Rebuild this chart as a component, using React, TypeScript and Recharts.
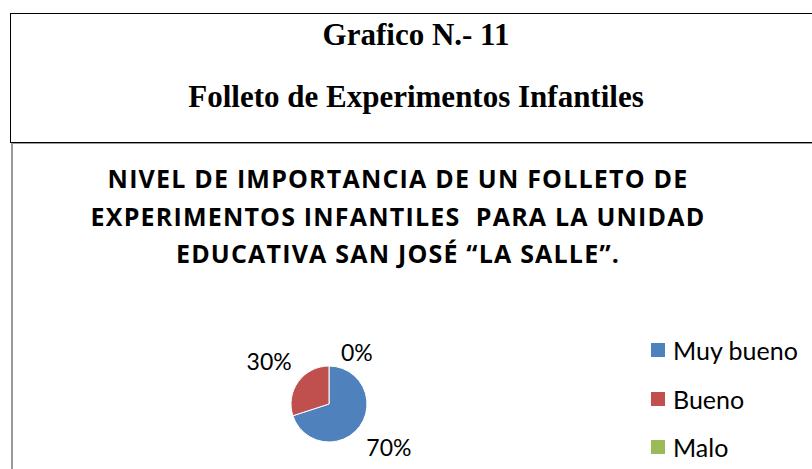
import { PieChart, Pie, Cell, Legend } from "recharts";

// Survey result for graph 11
const categories = ["Muy bueno", "Bueno", "Malo"];
const values = [70, 30, 0];
const colors = ["#4F81BD", "#C0504D", "#9BBB59"];

const titleLines = [
  "NIVEL DE IMPORTANCIA DE UN FOLLETO DE",
  "EXPERIMENTOS INFANTILES  PARA LA UNIDAD",
  "EDUCATIVA SAN JOSÉ \u201CLA SALLE\u201D.",
];

const chartData = categories.map((name, i) => ({ name, value: values[i] }));

const RADIAN = Math.PI / 180;

const renderLabel = (props: any) => {
  const { cx, cy, midAngle, outerRadius, percent, value } = props;
  const zero = value === 0;
  const r = zero ? outerRadius + 14 : outerRadius + 36;
  const x = cx + r * Math.cos(-midAngle * RADIAN);
  const y = cy + r * Math.sin(-midAngle * RADIAN);
  return (
    <text
      x={zero ? x + 12 : x}
      y={y}
      textAnchor={zero ? "start" : "middle"}
      dominantBaseline="central"
      fill="#000"
      fontSize={23}
      fontFamily="Lato, sans-serif"
    >
      {`${Math.round(percent * 100)}%`}
    </text>
  );
};

// legend keeps the data order (Muy bueno, Bueno, Malo)
const renderLegend = () => (
  <div style={{ fontFamily: "Lato, sans-serif", fontSize: 25, color: "#000" }}>
    {categories.map((name, i) => (
      <div key={`leg-${i}`} style={{ display: "flex", alignItems: "center", height: 48.5 }}>
        <span
          style={{ width: 14, height: 14, background: colors[i], display: "inline-block", marginRight: 8 }}
        />
        <span>{name}</span>
      </div>
    ))}
  </div>
);

export default function App() {
  return (
    <div
      style={{
        position: "fixed",
        left: 0,
        top: 0,
        width: 812,
        height: 469,
        overflow: "hidden",
        background: "#fff",
      }}
    >
      {/* header box */}
      <div
        style={{
          position: "absolute",
          left: 10,
          top: 13,
          width: 810,
          height: 128,
          border: "1px solid #000",
        }}
      />
      <div
        style={{
          position: "absolute",
          left: 10,
          width: 812,
          top: 20,
          textAlign: "center",
          fontFamily: "'Liberation Serif', 'Times New Roman', serif",
          fontWeight: "bold",
          fontSize: 31,
          lineHeight: "30px",
        }}
      >
        Grafico N.- 11
      </div>
      <div
        style={{
          position: "absolute",
          left: 10,
          width: 812,
          top: 82,
          textAlign: "center",
          fontFamily: "'Liberation Serif', 'Times New Roman', serif",
          fontWeight: "bold",
          fontSize: 31,
          lineHeight: "30px",
        }}
      >
        Folleto de Experimentos Infantiles
      </div>

      {/* chart frame */}
      <div
        style={{
          position: "absolute",
          left: 11,
          top: 143,
          width: 820,
          height: 340,
          borderLeft: "2px solid #9a9a9a",
          borderTop: "1px solid #9a9a9a",
        }}
      />

      {/* chart title */}
      {titleLines.map((line, i) => (
        <div
          key={`t-${i}`}
          style={{
            position: "absolute",
            left: 0,
            width: 796,
            top: 163 + i * 37.5,
            textAlign: "center",
            whiteSpace: "pre",
            fontFamily: "'Open Sans', sans-serif",
            fontWeight: "bold",
            fontSize: 25,
            letterSpacing: 1.2,
            lineHeight: "30px",
            color: "#000",
          }}
        >
          {line}
        </div>
      ))}

      <div style={{ position: "absolute", left: 0, top: 0 }}>
        <PieChart width={812} height={469}>
          <Pie
            data={chartData}
            dataKey="value"
            nameKey="name"
            cx={324}
            cy={399}
            outerRadius={38}
            startAngle={90}
            endAngle={-270}
            stroke="#fff"
            strokeWidth={1}
            label={renderLabel}
            labelLine={false}
            isAnimationActive={false}
          >
            {chartData.map((entry, index) => (
              <Cell key={`cell-${index}`} fill={colors[index]} />
            ))}
          </Pie>
          <Legend
            content={renderLegend}
            layout="vertical"
            wrapperStyle={{ left: 651, top: 326, width: 160 }}
          />
        </PieChart>
      </div>
    </div>
  );
}
